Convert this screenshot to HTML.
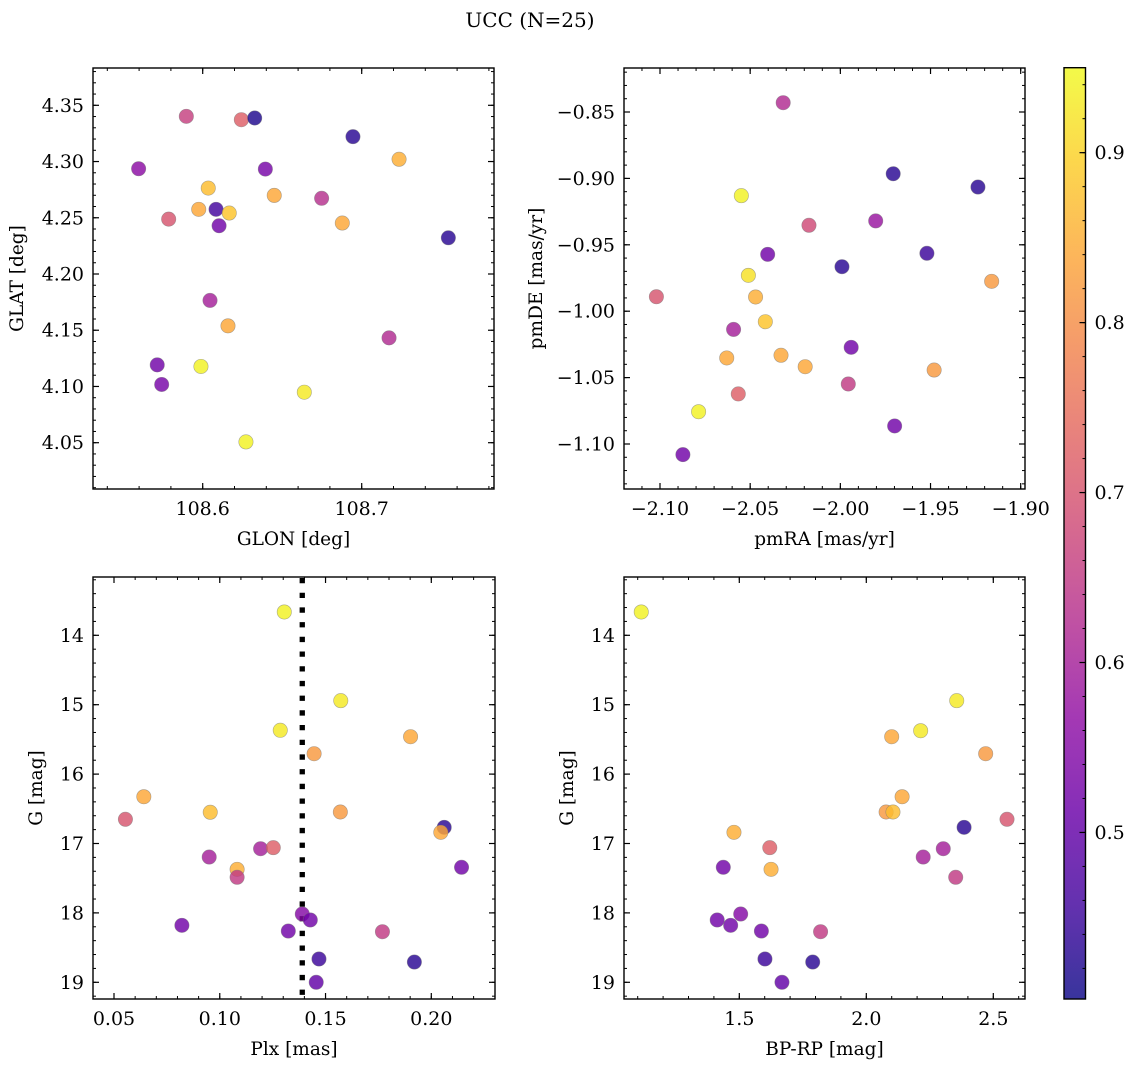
<!DOCTYPE html>
<html><head><meta charset="utf-8"><style>
html,body{margin:0;padding:0;background:#fff;}
svg{display:block;font-family:"DejaVu Serif","Liberation Serif",serif;}
</style></head><body>
<svg id="fig" width="1136" height="1067" viewBox="0 0 1136 1067" xmlns="http://www.w3.org/2000/svg">
<text x="530" y="27" text-anchor="middle" font-size="20" fill="#000">UCC (N=25)</text>
</svg>
<script>
// ---- data ----
const glon = [108.5897,108.6243,108.6327,108.6945,108.7235,108.5597,108.6394,108.6035,108.645,108.6748,108.5975,108.6084,108.6167,108.6878,108.5786,108.6103,108.7545,108.6046,108.6159,108.7172,108.5714,108.5989,108.5742,108.6639,108.6272];
const glat = [4.3402,4.3372,4.3387,4.3221,4.302,4.2936,4.2933,4.2764,4.2699,4.2673,4.2575,4.2575,4.2542,4.2453,4.2488,4.2429,4.2322,4.1765,4.1539,4.1432,4.1192,4.1178,4.1018,4.0949,4.0507];
const cTL = [0.66,0.72,0.42,0.43,0.85,0.56,0.53,0.87,0.84,0.63,0.84,0.46,0.88,0.84,0.70,0.52,0.43,0.60,0.84,0.62,0.52,0.94,0.53,0.93,0.94];

const pmra = [-2.0317,-1.9707,-1.9237,-2.0549,-2.0174,-1.9804,-2.0403,-1.952,-1.9991,-2.051,-1.9161,-2.102,-2.047,-2.0416,-2.0592,-1.994,-2.063,-2.0329,-2.0195,-1.948,-1.9956,-2.0566,-2.0786,-1.9699,-2.0873];
const pmde = [-0.843,-0.8965,-0.9065,-0.913,-0.9353,-0.932,-0.9572,-0.9564,-0.9665,-0.973,-0.9775,-0.9891,-0.9893,-1.0079,-1.0137,-1.0272,-1.0352,-1.0332,-1.0418,-1.0443,-1.0548,-1.0623,-1.0757,-1.0864,-1.108];
const cTR = [0.62,0.43,0.43,0.94,0.68,0.58,0.52,0.45,0.43,0.92,0.82,0.70,0.85,0.88,0.60,0.52,0.84,0.84,0.84,0.82,0.65,0.72,0.94,0.52,0.52];

const plx = [0.1305,0.1286,0.0641,0.0554,0.0955,0.095,0.1082,0.1082,0.1193,0.1253,0.0821,0.1324,0.1572,0.1902,0.1446,0.157,0.2061,0.2045,0.2143,0.139,0.1428,0.1769,0.1469,0.192,0.1456];
const gBL = [13.664,15.369,16.326,16.651,16.55,17.195,17.372,17.487,17.075,17.06,18.179,18.261,14.942,15.461,15.706,16.546,16.767,16.839,17.343,18.016,18.102,18.271,18.664,18.708,19.0];
const cBL = [0.94,0.93,0.84,0.70,0.87,0.60,0.85,0.65,0.60,0.72,0.52,0.52,0.93,0.84,0.82,0.82,0.43,0.84,0.52,0.55,0.52,0.65,0.45,0.43,0.50];
const plxLine = 0.139;

const bprp = [1.114,1.479,1.620,1.437,1.625,1.5055,1.413,1.466,1.587,1.820,1.601,1.789,1.668,2.356,2.214,2.100,2.470,2.141,2.078,2.105,2.554,2.385,2.303,2.224,2.352];
const gBR = [13.664,16.839,17.06,17.343,17.372,18.016,18.102,18.179,18.261,18.271,18.664,18.708,19.0,14.942,15.375,15.461,15.706,16.326,16.546,16.546,16.651,16.767,17.075,17.195,17.487];
const cBR = [0.94,0.85,0.72,0.52,0.85,0.55,0.52,0.52,0.52,0.65,0.45,0.43,0.50,0.93,0.93,0.84,0.82,0.84,0.82,0.87,0.70,0.43,0.60,0.60,0.65];

const cbTicks = [0.5,0.6,0.7,0.8,0.9];
const cbMin = 0.402, cbMax = 0.950;

// ---- helpers ----
const NS = "http://www.w3.org/2000/svg";
const fig = document.getElementById('fig');
function mk(tag, attrs, parent){ const e=document.createElementNS(NS,tag); for(const k in attrs) e.setAttribute(k,attrs[k]); (parent||fig).appendChild(e); return e; }
const plasma = [[13,8,135],[65,4,157],[106,0,168],[143,13,164],[177,42,144],[204,71,120],[225,100,98],[242,132,75],[252,166,54],[252,206,37],[240,249,33]];
function cmap(v){
  let t=(v-cbMin)/(cbMax-cbMin); t=Math.max(0,Math.min(1,t));
  const f=t*10, i=Math.min(9,Math.floor(f)), r=f-i;
  const a=plasma[i], b=plasma[i+1];
  return 'rgb('+[0,1,2].map(k=>Math.round(a[k]+(b[k]-a[k])*r)).join(',')+')';
}
function lin(v0,p0,v1,p1){ return v=>p0+(v-v0)*(p1-p0)/(v1-v0); }

const TICK_FS = 19, TITLE_FS = 18.5;

function panel(cfg){
  const g = mk('g',{});
  
  
  const {L,R,T,B} = cfg;
  const sx = lin(cfg.xv0,cfg.xp0,cfg.xv1,cfg.xp1);
  const sy = lin(cfg.yv0,cfg.yp0,cfg.yv1,cfg.yp1);
  for(let k=cfg.xminI0;k<=cfg.xminI1;k++){
    const v=k*cfg.xminStep; const p=sx(v); if(p<L+0.5||p>R-0.5) continue;
    mk('line',{x1:p,x2:p,y1:B,y2:B-3,stroke:'#000','stroke-width':1},g);
    mk('line',{x1:p,x2:p,y1:T,y2:T+3,stroke:'#000','stroke-width':1},g);
  }
  for(let k=cfg.yminI0;k<=cfg.yminI1;k++){
    const v=k*cfg.yminStep; const p=sy(v); if(p<T+0.5||p>B-0.5) continue;
    mk('line',{x1:L,x2:L+3,y1:p,y2:p,stroke:'#000','stroke-width':1},g);
    mk('line',{x1:R,x2:R-3,y1:p,y2:p,stroke:'#000','stroke-width':1},g);
  }
  cfg.xMaj.forEach((v,i)=>{
    const p=sx(v);
    mk('line',{x1:p,x2:p,y1:B,y2:B-6,stroke:'#000','stroke-width':1.2},g);
    mk('line',{x1:p,x2:p,y1:T,y2:T+6,stroke:'#000','stroke-width':1.2},g);
    const t=mk('text',{x:p,y:B+26,'text-anchor':'middle','font-size':TICK_FS,fill:'#000'},g);
    t.textContent=cfg.xLab[i];
    
    
  });
  cfg.yMaj.forEach((v,i)=>{
    const p=sy(v);
    mk('line',{x1:L,x2:L+6,y1:p,y2:p,stroke:'#000','stroke-width':1.2},g);
    mk('line',{x1:R,x2:R-6,y1:p,y2:p,stroke:'#000','stroke-width':1.2},g);
    const t=mk('text',{x:L-9,y:p+6.5,'text-anchor':'end','font-size':TICK_FS,fill:'#000'},g);
    t.textContent=cfg.yLab[i];
    
    
  });
  if(cfg.vline!==undefined){
    const p=sx(cfg.vline);
    const ln=mk('line',{x1:p,x2:p,y1:T+1,y2:B,stroke:'#000','stroke-width':5.3,'stroke-dasharray':'5.3 9.4'},g);
    
    
  }
  cfg.xs.forEach((xv,i)=>{
    const c=mk('circle',{cx:sx(xv),cy:sy(cfg.ys[i]),r:7.2,fill:cmap(cfg.cs[i]),'fill-opacity':0.82,stroke:'#777','stroke-opacity':0.6,'stroke-width':0.6},g);
    
    
  });
  const fr=mk('rect',{x:L,y:T,width:R-L,height:B-T,fill:'none',stroke:'#000','stroke-width':1.4},g);
  
  
  const xl=mk('text',{x:(L+R)/2,y:B+56,'text-anchor':'middle','font-size':TITLE_FS,fill:'#000'},g);
  xl.textContent=cfg.xTitle;
  
  
  const yl=mk('text',{x:0,y:0,'text-anchor':'middle','font-size':TITLE_FS,fill:'#000',transform:'translate('+cfg.yTitleX+','+((T+B)/2)+') rotate(-90)'},g);
  yl.textContent=cfg.yTitle;
  
  
}

const gMaj=[14,15,16,17,18,19], gLab=['14','15','16','17','18','19'];

panel({name:'glon-glat-panel',L:93,R:494,T:68,B:489,
  xv0:108.6,xp0:202.7,xv1:108.7,xp1:361.7, yv0:4.35,yp0:105.3,yv1:4.05,yp1:442.7,
  xminStep:0.02,xminI0:5425,xminI1:5440, yminStep:0.01,yminI0:400,yminI1:440,
  xMaj:[108.6,108.7], xLab:['108.6','108.7'],
  yMaj:[4.05,4.10,4.15,4.20,4.25,4.30,4.35], yLab:['4.05','4.10','4.15','4.20','4.25','4.30','4.35'],
  xs:glon, ys:glat, cs:cTL, xTitle:'GLON [deg]', yTitle:'GLAT [deg]', yTitleX:23});

panel({name:'pm-panel',L:624,R:1025,T:68,B:489,
  xv0:-2.10,xp0:660,xv1:-1.90,xp1:1020.7, yv0:-0.85,yp0:112,yv1:-1.10,yp1:444,
  xminStep:0.01,xminI0:-213,xminI1:-189, yminStep:0.01,yminI0:-114,yminI1:-82,
  xMaj:[-2.10,-2.05,-2.00,-1.95,-1.90], xLab:['\u22122.10','\u22122.05','\u22122.00','\u22121.95','\u22121.90'],
  yMaj:[-0.85,-0.90,-0.95,-1.00,-1.05,-1.10], yLab:['\u22120.85','\u22120.90','\u22120.95','\u22121.00','\u22121.05','\u22121.10'],
  xs:pmra, ys:pmde, cs:cTR, xTitle:'pmRA [mas/yr]', yTitle:'pmDE [mas/yr]', yTitleX:542});

panel({name:'plx-g-panel',L:93,R:495,T:577,B:999,
  xv0:0.05,xp0:114,xv1:0.20,xp1:431.3, yv0:14,yp0:635.3,yv1:19,yp1:982.3,
  xminStep:0.01,xminI0:3,xminI1:24, yminStep:0.2,yminI0:65,yminI1:97,
  xMaj:[0.05,0.10,0.15,0.20], xLab:['0.05','0.10','0.15','0.20'],
  yMaj:gMaj, yLab:gLab, vline:plxLine,
  xs:plx, ys:gBL, cs:cBL, xTitle:'Plx [mas]', yTitle:'G [mag]', yTitleX:42});

panel({name:'cmd-panel',L:624,R:1025,T:577,B:999,
  xv0:1.5,xp0:739.3,xv1:2.5,xp1:993.3, yv0:14,yp0:635.3,yv1:19,yp1:982.3,
  xminStep:0.1,xminI0:10,xminI1:27, yminStep:0.2,yminI0:65,yminI1:97,
  xMaj:[1.5,2.0,2.5], xLab:['1.5','2.0','2.5'],
  yMaj:gMaj, yLab:gLab,
  xs:bprp, ys:gBR, cs:cBR, xTitle:'BP-RP [mag]', yTitle:'G [mag]', yTitleX:573});

// ---- colorbar ----
(function(){
  const L=1064,R=1085.5,T=67.7,B=999;
  const sc = lin(cbMin,B,cbMax,T);
  const g = mk('g',{});
  
  
  const defs=mk('defs',{},g);
  const grad=mk('linearGradient',{id:'cbg',x1:0,y1:1,x2:0,y2:0},defs);
  for(let i=0;i<=20;i++){
    const t=i/20; const v=cbMin+t*(cbMax-cbMin);
    mk('stop',{offset:t,'stop-color':cmap(v),'stop-opacity':0.82},grad);
  }
  mk('rect',{x:L,y:T,width:R-L,height:B-T,fill:'url(#cbg)',stroke:'#000','stroke-width':1.4},g);
  for(let k=21;k<=47;k++){
    const v=k*0.02; const p=sc(v); if(p<T+1||p>B-1) continue;
    mk('line',{x1:R,x2:R-3,y1:p,y2:p,stroke:'#000','stroke-width':1},g);
  }
  cbTicks.forEach(v=>{
    const p=sc(v);
    mk('line',{x1:R,x2:R-6,y1:p,y2:p,stroke:'#000','stroke-width':1.2},g);
    const t=mk('text',{x:R+9,y:p+6.5,'font-size':TICK_FS,fill:'#000'},g);
    t.textContent=v.toFixed(1);
    
    
  });
})();
</script>
</body></html>
